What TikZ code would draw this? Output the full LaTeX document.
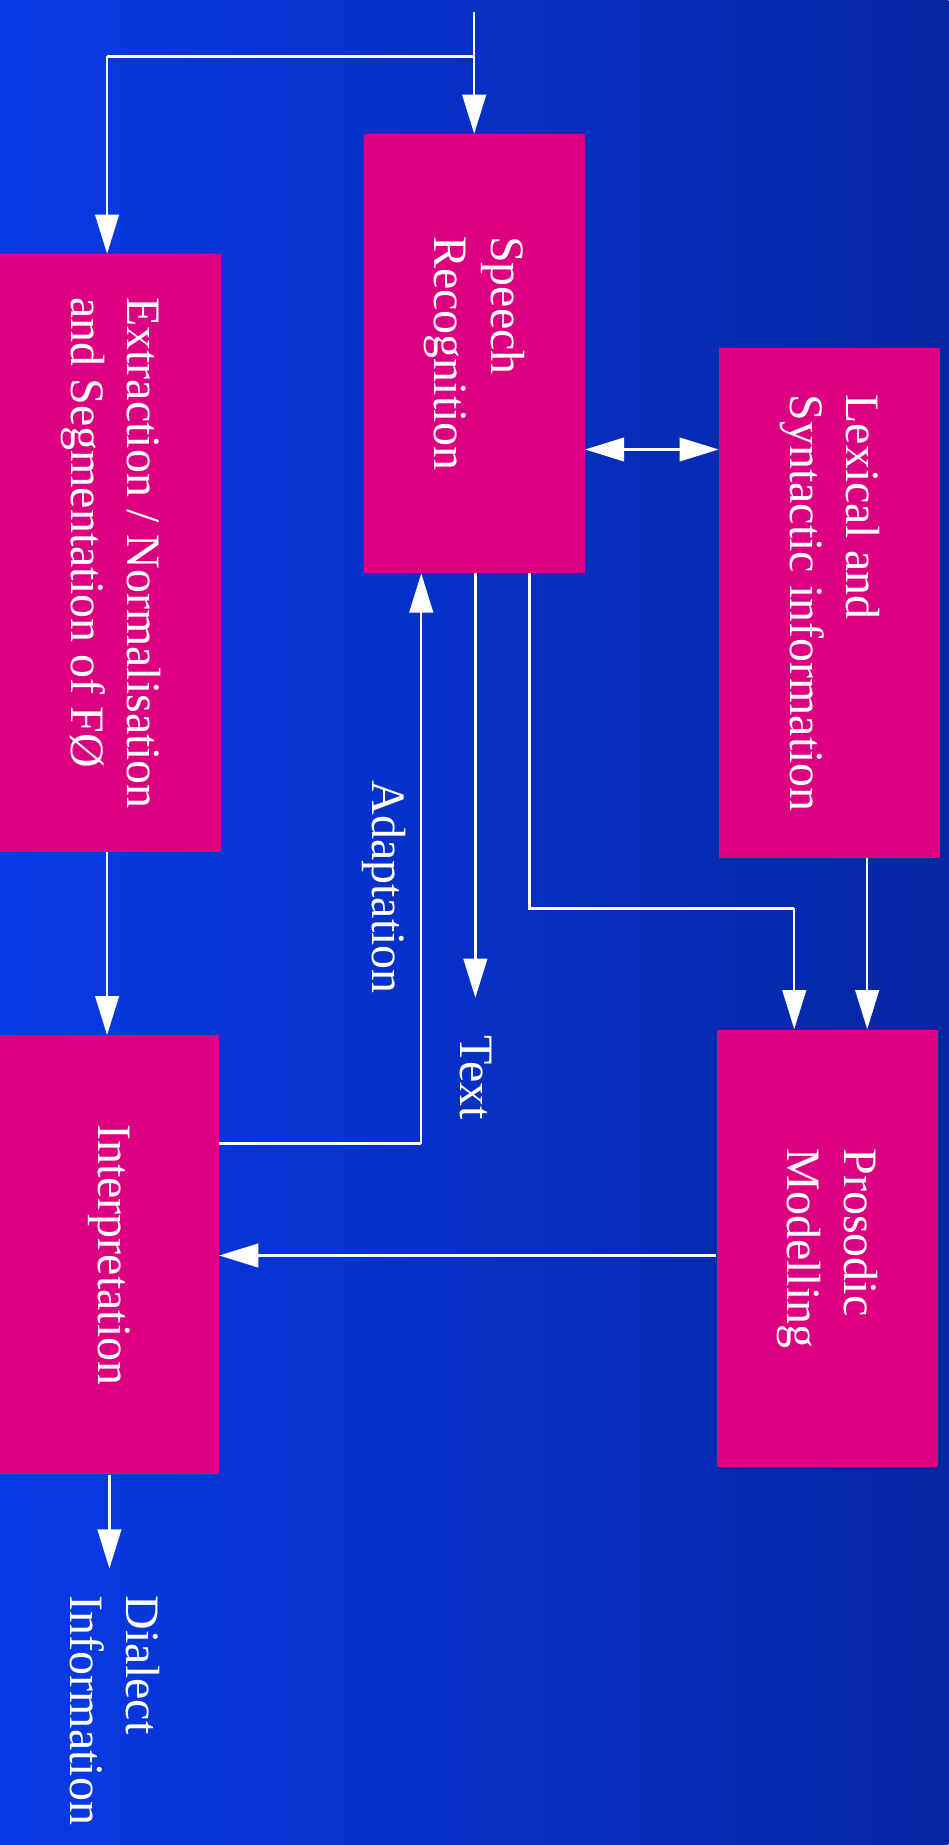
\documentclass[tikz,border=0pt]{standalone}
\usepackage{fontspec}
\usepackage{graphicx}
\setmainfont{Liberation Serif}
\usetikzlibrary{arrows.meta,calc}
\definecolor{bgL}{RGB}{8,58,230}
\definecolor{bgM}{RGB}{5,50,205}
\definecolor{bgR}{RGB}{4,38,162}
\definecolor{boxpink}{RGB}{220,0,128}
\newcommand{\rtxt}[1]{\rotatebox{-90}{\begin{tabular}{@{}l@{}}#1\end{tabular}}}
\tikzset{
  blockbox/.style={fill=boxpink, draw=none, inner sep=0pt, text=white,
    font=\fontsize{29}{34}\selectfont},
  lbl/.style={inner sep=0pt, text=white, font=\fontsize{29}{34}\selectfont},
  conn/.style={draw=white, line width=1.5pt, -{Triangle[length=0.83cm,width=0.5cm]}},
  conn2/.style={draw=white, line width=1.5pt, {Triangle[length=0.83cm,width=0.5cm]}-{Triangle[length=0.83cm,width=0.5cm]}},
  plain/.style={draw=white, line width=1.5pt}
}
\begin{document}
\begin{tikzpicture}[x=0.025cm,y=-0.025cm]
\useasboundingbox (0,0) rectangle (806,1568);
\shade[left color=bgL, middle color=bgM, right color=bgR] (0,0) rectangle (806,1568);

% boxes
\node[blockbox, minimum width=4.7cm, minimum height=9.325cm] (sr) at (403,300.5) {\rtxt{Speech\\Recognition}};
\node[blockbox, minimum width=4.7cm, minimum height=12.7cm] (ex) at (94,470) {\rtxt{Extraction / Normalisation\\and Segmentation of FØ}};
\node[blockbox, minimum width=4.7cm, minimum height=10.825cm] (lx) at (705,512.5) {\rtxt{Lexical and\\Syntactic information}};
\node[blockbox, minimum width=4.65cm, minimum height=9.325cm] (it) at (93,1066.5) {\rtxt{Interpretation}};
\node[blockbox, minimum width=4.7cm, minimum height=9.3cm] (pm) at (703,1061) {\rtxt{Prosodic\\Modelling}};

% labels
\node[lbl] (adapt) at (326,754) {\rtxt{Adaptation}};
\node[lbl] (txt) at (401,916) {\rtxt{Text}};
\node[lbl, anchor=north] (dial) at (93,1356) {\rtxt{Dialect\\Information}};

% helper coordinates
\coordinate (in) at (403,10);
\coordinate (br) at (403,48);
\coordinate (exx) at (91,0);
\coordinate (dy) at (0,382);
\coordinate (a1) at (358,972);
\coordinate (t1) at (404,848);
\coordinate (p1) at (450,772);
\coordinate (p2) at (675,772);
\coordinate (l1) at (737,0);
\coordinate (py) at (0,1067);
\coordinate (itx) at (93,0);
\coordinate (dout) at (93,1333);

% connectors
\draw[conn] (in) -- (sr.north);
\draw[plain] (br) -- (br -| exx);
\draw[conn] (br -| exx) -- (exx |- ex.north);
\draw[conn2] (sr.east |- dy) -- (lx.west |- dy);
\draw[plain] (it.east |- a1) -- (a1);
\draw[conn] (a1) -- (a1 |- sr.south);
\draw[conn] (t1 |- sr.south) -- (t1);
\draw[plain] (p1 |- sr.south) -- (p1) -- (p2);
\draw[conn] (p2) -- (p2 |- pm.north);
\draw[conn] (l1 |- lx.south) -- (l1 |- pm.north);
\draw[conn] (pm.west |- py) -- (it.east |- py);
\draw[conn] (exx |- ex.south) -- (exx |- it.north);
\draw[conn] (itx |- it.south) -- (dout);
\end{tikzpicture}
\end{document}
